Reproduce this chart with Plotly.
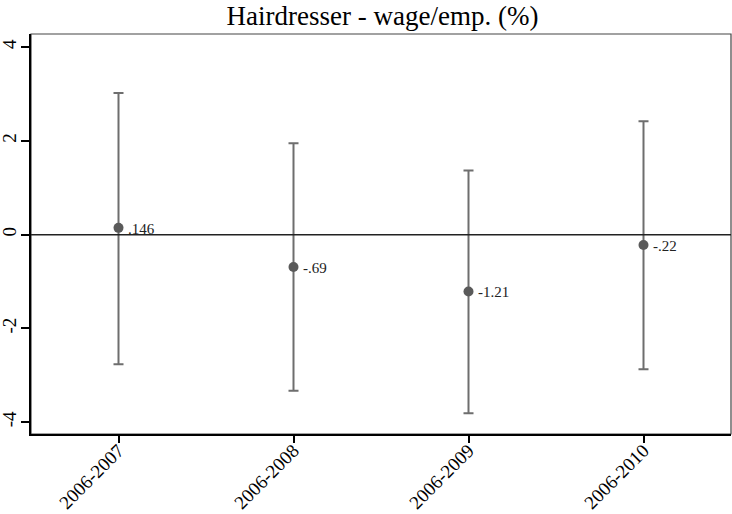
import plotly.graph_objects as go

categories = ["2006-2007", "2006-2008", "2006-2009", "2006-2010"]
estimates = [0.146, -0.69, -1.21, -0.22]
ci_upper = [3.02, 1.95, 1.37, 2.42]
ci_lower = [-2.76, -3.33, -3.81, -2.87]
point_labels = [".146", "-.69", "-1.21", "-.22"]
y_ticks = [-4, -2, 0, 2, 4]
y_tick_labels = ["-4", "-2", "0", "2", "4"]

err_plus = [u - e for u, e in zip(ci_upper, estimates)]
err_minus = [e - l for e, l in zip(estimates, ci_lower)]

FONT = "Liberation Serif, Times New Roman, serif"

fig = go.Figure()
fig.add_trace(go.Scatter(
    x=categories, y=estimates,
    mode="markers",
    marker=dict(color="#5a5a5a", size=10),
    error_y=dict(type="data", symmetric=False, array=err_plus, arrayminus=err_minus,
                 color="#6e6e6e", thickness=2, width=5),
    showlegend=False,
    cliponaxis=False,
    hoverinfo="skip",
))

for cat, est, lab in zip(categories, estimates, point_labels):
    fig.add_annotation(x=cat, y=est, text=lab, showarrow=False,
                       xanchor="left", yanchor="middle", xshift=7, yshift=-1,
                       font=dict(family=FONT, size=15, color="#222222"))

fig.add_hline(y=0, line=dict(color="#222222", width=1.5))

# thin frame on top/right
fig.add_shape(type="rect", xref="paper", yref="paper", x0=0, y0=0, x1=1, y1=1,
              line=dict(color="#444444", width=1.2), layer="below")

fig.update_layout(
    width=732, height=514,
    margin=dict(l=31, r=1, t=34, b=80),
    paper_bgcolor="white", plot_bgcolor="white",
    title=dict(text="Hairdresser - wage/emp. (%)", x=382.5 / 732, xanchor="center",
               yref="container", y=1 - 16 / 514, yanchor="middle",
               font=dict(family=FONT, size=27, color="black")),
    font=dict(family=FONT, color="black"),
)
fig.update_xaxes(
    type="category", range=[-0.5, 3.5], automargin=False,
    showgrid=False, zeroline=False,
    showline=True, linecolor="black", linewidth=2,
    ticks="outside", ticklen=7, tickcolor="black", tickwidth=1.5,
    tickangle=-45, tickfont=dict(family=FONT, size=19, color="black"),
    ticklabelstandoff=-11,
)
fig.update_yaxes(
    range=[-4.25, 4.28], tickvals=y_ticks, ticktext=y_tick_labels, automargin=False,
    showgrid=False, zeroline=False,
    showline=True, linecolor="black", linewidth=2,
    ticks="outside", ticklen=8, tickcolor="black", tickwidth=1.5,
    tickangle=-90, tickfont=dict(family=FONT, size=19, color="black"),
    ticklabelstandoff=-3,
)

fig.write_html("out.html", config={"displayModeBar": False},
               post_script="document.body.style.margin='0';")
